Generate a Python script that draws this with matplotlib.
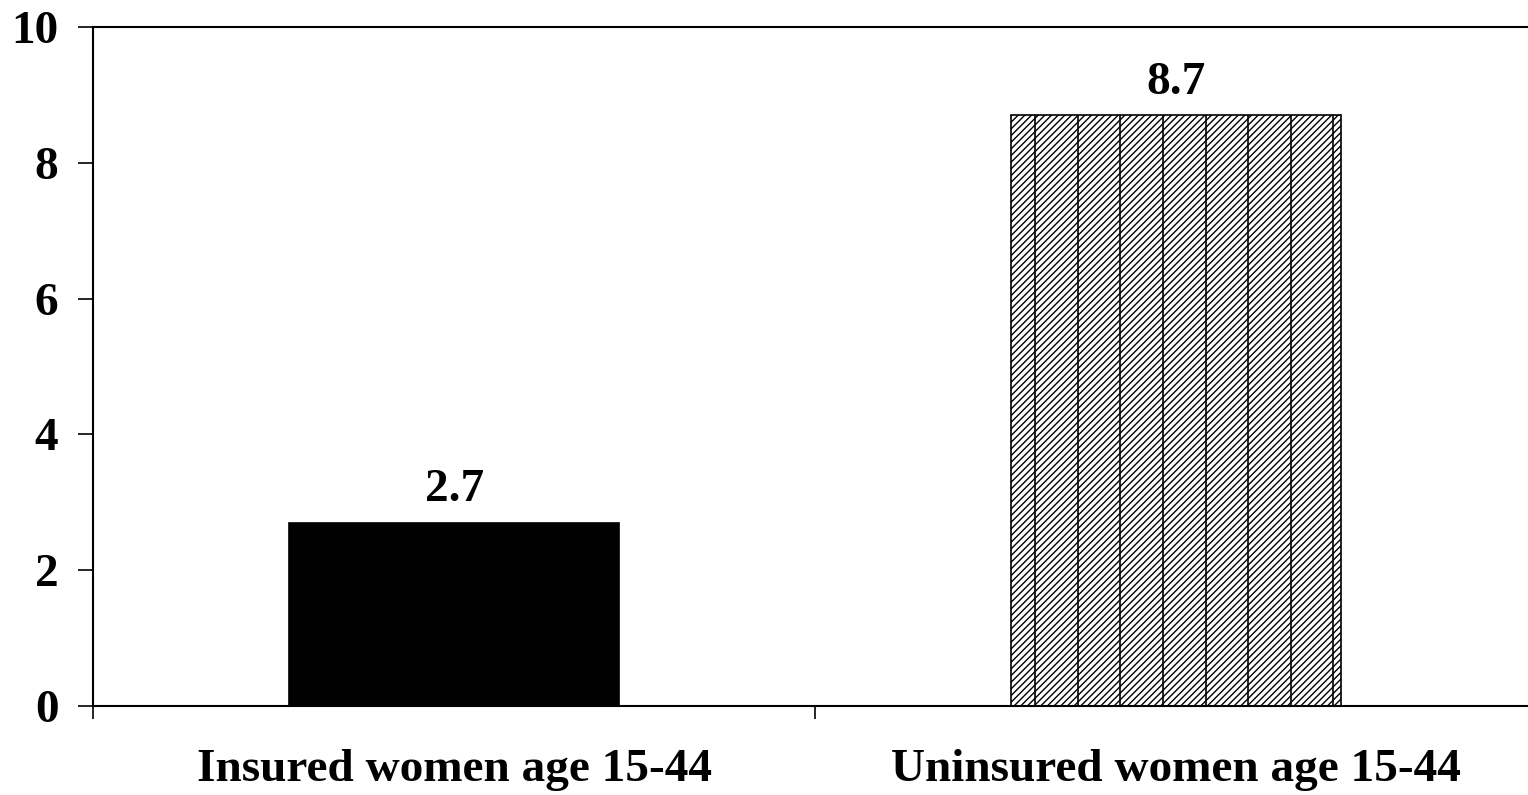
import matplotlib.pyplot as plt
import numpy as np

plt.rcParams['font.family'] = ['Liberation Serif', 'DejaVu Serif']
plt.rcParams['font.weight'] = 'bold'
plt.rcParams['hatch.linewidth'] = 1.0

# rates for the two groups
groups = ['Insured women age 15-44', 'Uninsured women age 15-44']
rates = [2.7, 8.7]
yticks = [0, 2, 4, 6, 8, 10]

fig = plt.figure(figsize=(15.28, 7.95), dpi=100)
ax = fig.add_axes([0.061, 0.112, 0.945, 0.854])

x = np.arange(len(groups))
width = 0.457
bars = ax.bar(x, rates, width=width, color=['black', 'white'],
              edgecolor='black', linewidth=1.2)
bars[1].set_hatch('/////')

# vertical stripes over the hatched bar
b = bars[1]
x0 = b.get_x()
step = b.get_width() / 7.76
xs = x0 + step * (0.57 + np.arange(8))
xs = xs[xs < x0 + b.get_width()]
ax.vlines(xs, 0, b.get_height(), color='black', linewidth=1.2)

for xi, r in zip(x, rates):
    ax.text(xi, r + 0.17, f'{r:.1f}', ha='center', va='bottom',
            fontsize=34, fontweight='bold')

ax.set_xlim(-0.5, 1.5)
ax.set_ylim(0, 10)
ax.set_yticks(yticks)
ax.set_yticklabels([str(t) for t in yticks], fontsize=34, fontweight='bold')
ax.set_xticks([-0.5, 0.5, 1.5])
ax.set_xticklabels([])
ax.set_xticks(x, minor=True)
ax.set_xticklabels(groups, minor=True, fontsize=34, fontweight='bold')
ax.tick_params(axis='x', which='minor', length=0, pad=31)
ax.tick_params(axis='x', which='major', direction='out', length=9, width=1.2)
ax.tick_params(axis='y', length=11, direction='out', width=1.2, pad=14)

ax.spines['right'].set_visible(False)
for s in ['left', 'bottom', 'top']:
    ax.spines[s].set_linewidth(1.5)

fig.savefig('out.png', dpi=100)
